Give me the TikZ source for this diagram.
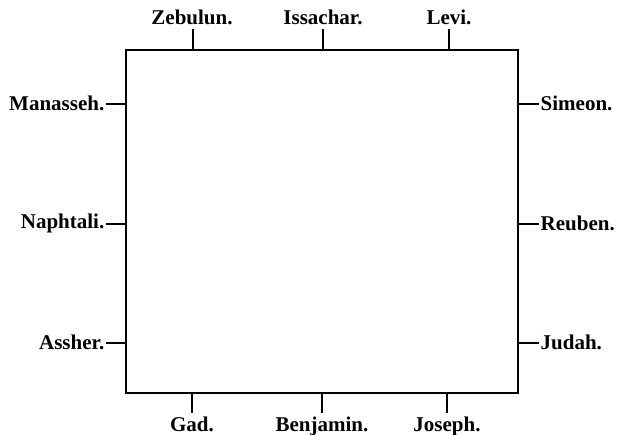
\documentclass[tikz,border=0pt]{standalone}
\usepackage{fontspec}
\setmainfont{Liberation Serif}
\begin{document}
\begin{tikzpicture}[x=1pt,y=-1pt,
  tribe/.style={font=\fontsize{21}{24}\selectfont\bfseries,inner sep=1.5pt},
  tick/.style={line width=1.7pt}]
  \useasboundingbox (0,0) rectangle (617,435);
  % camp
  \draw[line width=2pt] (126,50) rectangle (518,393);
  % north side
  \coordinate (n1) at (193,50);
  \coordinate (n2) at (323,50);
  \coordinate (n3) at (449,50);
  \node[tribe,anchor=base] (zebulun) at (192,25) {Zebulun.};
  \node[tribe,anchor=base] (issachar) at (323,25) {Issachar.};
  \node[tribe,anchor=base] (levi) at (449,25) {Levi.};
  \draw[tick] (n1) -- ++(0,-21);
  \draw[tick] (n2) -- ++(0,-21);
  \draw[tick] (n3) -- ++(0,-21);
  % west side
  \coordinate (w1) at (126,104);
  \coordinate (w2) at (126,224);
  \coordinate (w3) at (126,343);
  \node[tribe,anchor=east] (manasseh) at (106,103) {Manasseh.};
  \node[tribe,anchor=east] (naphtali) at (106,223) {Naphtali.};
  \node[tribe,anchor=east] (assher) at (106,342) {Assher.};
  \draw[tick] (w1) -- (manasseh.east |- w1);
  \draw[tick] (w2) -- (naphtali.east |- w2);
  \draw[tick] (w3) -- (assher.east |- w3);
  % east side
  \coordinate (e1) at (518,104);
  \coordinate (e2) at (518,224);
  \coordinate (e3) at (518,343);
  \node[tribe,anchor=west] (simeon) at (539,103) {Simeon.};
  \node[tribe,anchor=west] (reuben) at (539,223) {Reuben.};
  \node[tribe,anchor=west] (judah) at (539,342) {Judah.};
  \draw[tick] (e1) -- (simeon.west |- e1);
  \draw[tick] (e2) -- (reuben.west |- e2);
  \draw[tick] (e3) -- (judah.west |- e3);
  % south side
  \coordinate (s1) at (192,393);
  \coordinate (s2) at (322,393);
  \coordinate (s3) at (447,393);
  \node[tribe,anchor=base] (gad) at (192,431) {Gad.};
  \node[tribe,anchor=base] (benjamin) at (322,431) {Benjamin.};
  \node[tribe,anchor=base] (joseph) at (447,431) {Joseph.};
  \draw[tick] (s1) -- ++(0,20);
  \draw[tick] (s2) -- ++(0,20);
  \draw[tick] (s3) -- ++(0,20);
\end{tikzpicture}
\end{document}
